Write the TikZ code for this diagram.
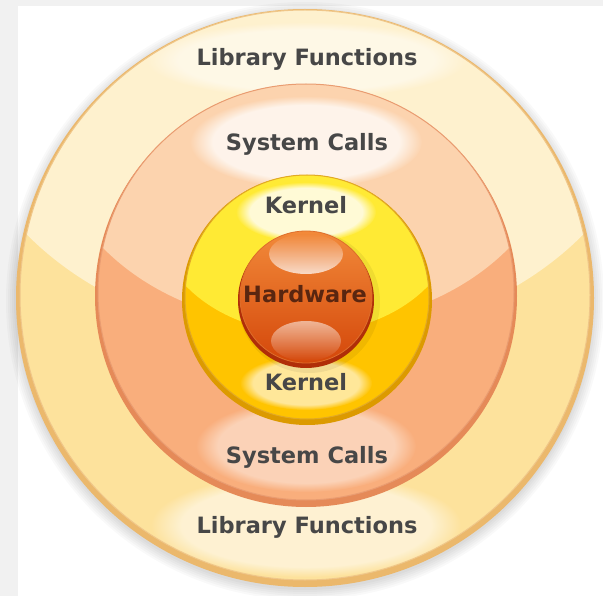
\documentclass[tikz,border=0pt]{standalone}
\usepackage{fontspec}
\setmainfont{DejaVu Sans}
\usetikzlibrary{fadings}
\definecolor{bggrey}{HTML}{F1F1F1}
\definecolor{librim}{HTML}{EBB86C}
\definecolor{libhigh}{HTML}{FEF1CE}
\definecolor{liblow}{HTML}{FDE29C}
\definecolor{sysrim}{HTML}{E58A58}
\definecolor{syshigh}{HTML}{FCD3AE}
\definecolor{syslow}{HTML}{F9AE7C}
\definecolor{kerrim}{HTML}{DC9A00}
\definecolor{kerhigh}{HTML}{FFEA34}
\definecolor{kerlow}{HTML}{FFC400}
\definecolor{hwtop}{HTML}{F28A3A}
\definecolor{hwbot}{HTML}{D4470A}
\definecolor{hwrim}{HTML}{B02E08}
\definecolor{txt}{HTML}{474747}
\definecolor{hwtxt}{HTML}{5A2610}
\tikzset{
  lbl/.style={font=\bfseries\fontsize{22.5}{26}\selectfont, text=txt, anchor=base, inner sep=0pt},
  hwlbl/.style={lbl, text=hwtxt},
  glow/.style={fill=white, path fading=circle with fuzzy edge 20 percent},
}
\begin{document}
\begin{tikzpicture}[x=1pt,y=-1pt]
\useasboundingbox (0,0) rectangle (603,596);
\fill[bggrey] (0,0) rectangle (603,596);
\fill[white] (18,6) rectangle (603,596);

% soft shadow of the whole disk
\foreach \r in {289,291,...,299}
  \fill[black, opacity=0.025] (305,301) circle[radius=\r pt];

% ---------- Library Functions disk ----------
\fill[librim] (305,298) circle[radius=289pt];
\fill[liblow] (305,295) circle[radius=285pt];
\begin{scope}
  \clip (305,295) circle[radius=285pt];
  \fill[libhigh] (305,70) ellipse[x radius=350pt, y radius=271pt];
  \fill[glow, fill opacity=0.5] (306,60) ellipse[x radius=160pt, y radius=38pt];
  \fill[glow, fill opacity=0.55] (306,525) ellipse[x radius=155pt, y radius=52pt];
\end{scope}
\draw[librim!80!white, line width=1pt] (305,295) circle[radius=285pt];

% ---------- System Calls disk ----------
\fill[sysrim] (306,296) circle[radius=211pt];
\fill[syslow] (306,292) circle[radius=208pt];
\begin{scope}
  \clip (306,292) circle[radius=208pt];
  \fill[syshigh] (306,128) ellipse[x radius=255pt, y radius=198pt];
  \fill[glow, fill opacity=0.75] (306,142) ellipse[x radius=116pt, y radius=46pt];
  \fill[glow, fill opacity=0.45] (306,446) ellipse[x radius=110pt, y radius=46pt];
\end{scope}
\draw[sysrim!85!white, line width=1pt] (306,292) circle[radius=208pt];

% ---------- Kernel disk ----------
\fill[kerrim] (307,300) circle[radius=125pt];
\fill[kerlow] (307,297) circle[radius=122pt];
\begin{scope}
  \clip (307,297) circle[radius=122pt];
  \fill[kerhigh] (307,216) ellipse[x radius=151pt, y radius=117pt];
  \fill[glow, fill opacity=0.8] (306,212) ellipse[x radius=70pt, y radius=30pt];
  \fill[glow, fill opacity=0.6] (306,383) ellipse[x radius=66pt, y radius=27pt];
  \fill[black, opacity=0.06] (309,302) circle[radius=71pt];
\end{scope}
\draw[kerrim!85!white, line width=1pt] (307,297) circle[radius=122pt];

% ---------- Hardware disk ----------
\fill[hwrim] (306,300) circle[radius=68pt];
\shade[top color=hwtop, bottom color=hwbot] (306,297) circle[radius=66pt];
\fill[white, path fading=north, fill opacity=0.75] (306,254) ellipse[x radius=37pt, y radius=20pt];
\fill[white, path fading=south, fill opacity=0.55] (306,341) ellipse[x radius=35pt, y radius=20pt];
\draw[hwtop!70!hwrim, line width=0.8pt] (306,297) circle[radius=66pt];

% ---------- labels ----------
\node[lbl] (libtop) at (307,66) {Library Functions};
\node[lbl] (systop) at (307,151) {System Calls};
\node[lbl] (kertop) at (306,214) {Kernel};
\node[hwlbl] (hw) at (305,303) {Hardware};
\node[lbl] (kerbot) at (306,391) {Kernel};
\node[lbl] (sysbot) at (307,463) {System Calls};
\node[lbl] (libbot) at (307,533) {Library Functions};
\end{tikzpicture}
\end{document}
